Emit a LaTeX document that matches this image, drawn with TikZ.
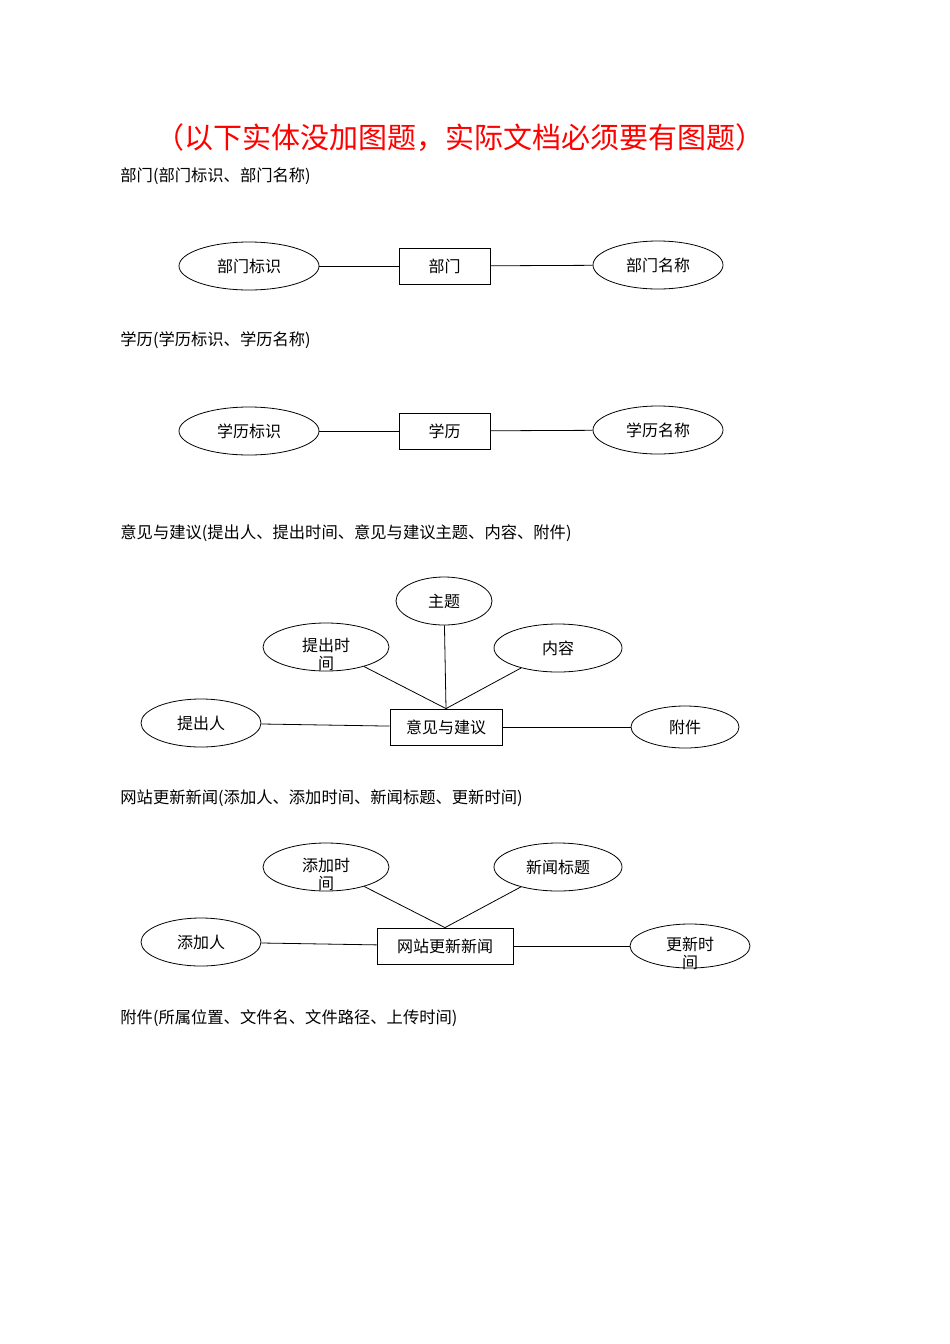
\documentclass[tikz,border=0pt]{standalone}
\usepackage{fontspec}
\setmainfont{Noto Sans CJK SC}
\usetikzlibrary{shapes.geometric}
\begin{document}
\begin{tikzpicture}[x=1pt,y=-1pt,
 attr/.style={draw,ellipse,inner sep=0pt,font=\fontsize{16}{17}\selectfont,align=center},
 ent/.style={draw,rectangle,inner sep=0pt,font=\fontsize{16}{17}\selectfont},
 head/.style={anchor=west,font=\fontsize{16.3}{18}\selectfont,inner sep=0pt},
 two/.style={font=\fontsize{16}{18}\selectfont,align=center,inner sep=0pt,yshift=-7pt},
 every path/.style={line width=0.8pt}]
\useasboundingbox (0,0) rectangle (950,1344);
\node[text=red,font=\fontsize{29}{32}\selectfont] (title) at (460,138) {（以下实体没加图题，实际文档必须要有图题）};
\node[head] (h1) at (120,176) {部门(部门标识、部门名称)};
\node[attr,minimum width=140,minimum height=48] (a1) at (249,266) {部门标识};
\node[ent,minimum width=91,minimum height=36] (e1) at (444.5,266) {部门};
\node[attr,minimum width=130,minimum height=48] (a2) at (658,265) {部门名称};
\draw (a1) -- (e1); \draw (e1) -- (a2);
\node[head] (h2) at (120,340) {学历(学历标识、学历名称)};
\node[attr,minimum width=140,minimum height=48] (b1) at (249,431) {学历标识};
\node[ent,minimum width=91,minimum height=36] (f1) at (444.5,431) {学历};
\node[attr,minimum width=130,minimum height=48] (b2) at (658,430) {学历名称};
\draw (b1) -- (f1); \draw (f1) -- (b2);
\node[head] (h3) at (120,533) {意见与建议(提出人、提出时间、意见与建议主题、内容、附件)};
\node[attr,minimum width=96,minimum height=48] (c1) at (444,601) {主题};
\node[attr,minimum width=126,minimum height=48] (c2) at (326,647) {};
\node[two] (c2t) at (c2) {提出时\\间};
\node[attr,minimum width=128,minimum height=48] (c3) at (558,648) {内容};
\node[attr,minimum width=120,minimum height=48] (c4) at (201,723) {提出人};
\node[ent,minimum width=112,minimum height=36] (g1) at (446,727) {意见与建议};
\node[attr,minimum width=108,minimum height=42] (c5) at (685,727) {附件};
\draw (g1.north) -- (c1); \draw (g1.north) -- (c2); \draw (g1.north) -- (c3);
\draw (c4) -- (g1); \draw (g1) -- (c5);
\node[head] (h4) at (120,798) {网站更新新闻(添加人、添加时间、新闻标题、更新时间)};
\node[attr,minimum width=126,minimum height=48] (d1) at (326,867) {};
\node[two] (d1t) at (d1) {添加时\\间};
\node[attr,minimum width=128,minimum height=48] (d2) at (558,867) {新闻标题};
\node[attr,minimum width=120,minimum height=48] (d3) at (201,942) {添加人};
\node[ent,minimum width=136,minimum height=36] (k1) at (445,946) {网站更新新闻};
\node[attr,minimum width=120,minimum height=44] (d4) at (690,946) {};
\node[two] (d4t) at (d4) {更新时\\间};
\draw (k1.north) -- (d1); \draw (k1.north) -- (d2);
\draw (d3) -- (k1); \draw (k1) -- (d4);
\node[head] (h5) at (120,1018) {附件(所属位置、文件名、文件路径、上传时间)};
\end{tikzpicture}
\end{document}
